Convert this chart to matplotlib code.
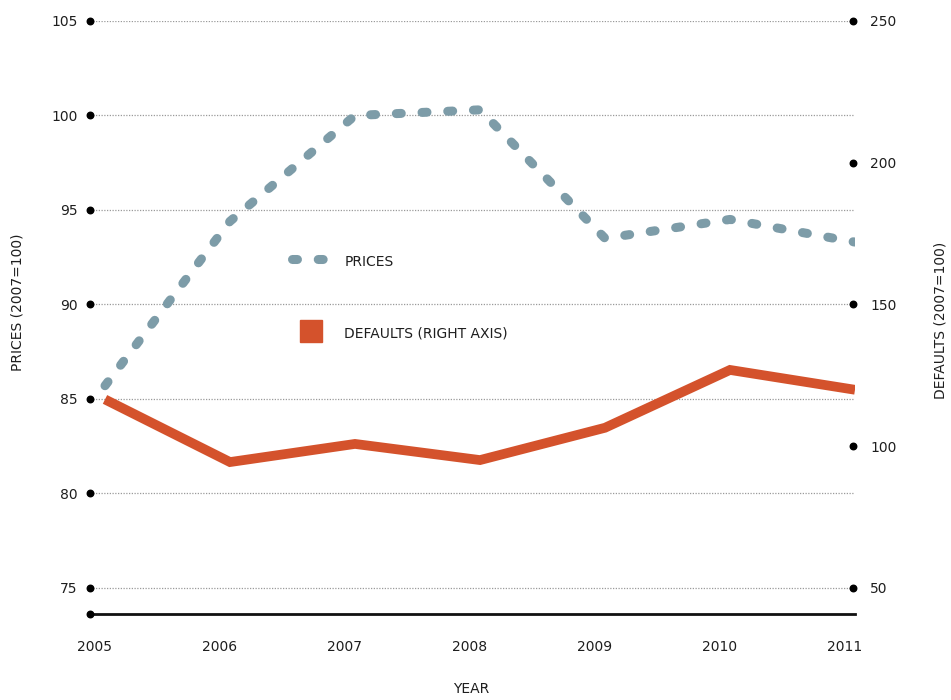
import numpy as np
import matplotlib.pyplot as plt
import matplotlib.transforms as mtransforms
from matplotlib.lines import Line2D

years = [2005, 2006, 2007, 2008, 2009, 2010, 2011]
prices = [85.7, 94.4, 100.0, 100.3, 93.5, 94.5, 93.3]
defaults = [116.5, 94.4, 100.8, 95.1, 106.5, 126.9, 119.9]

left_ticks = [75, 80, 85, 90, 95, 100, 105]
right_ticks = [50, 100, 150, 200, 250]

blue = '#7d9ca8'
red = '#d4522c'
txt = '#1e1e1e'
fs = 10

fig = plt.figure(figsize=(9.51, 7), dpi=100)
ax = fig.add_axes([90/951, 1-614/700, 765/951, 593/700])
ax2 = ax.twinx()

x0 = 2005 - 15/125
ax.set_xlim(x0, 2011)
ax.set_ylim(73.62, 105)
ax2.set_ylim(40.8, 250)

ax.plot(years, prices, color=blue, lw=6.5, dashes=(0.55, 2.3),
        dash_capstyle='round', zorder=3)
ax2.plot(years, defaults, color=red, lw=7, solid_capstyle='butt',
         solid_joinstyle='miter', zorder=3)

# grid + axis styling
ax.set_yticks(left_ticks)
ax.set_xticks(years)
ax.grid(axis='y', color='#9a9a9a', lw=0.9, linestyle=(0, (1, 1.2)))
ax.grid(axis='x', visible=False)
for s in ['top', 'left', 'right']:
    ax.spines[s].set_visible(False)
    ax2.spines[s].set_visible(False)
ax2.spines['bottom'].set_visible(False)
ax.spines['bottom'].set_color('#111111')
ax.spines['bottom'].set_linewidth(2)

ax.tick_params(axis='y', length=0, pad=9, labelsize=fs, labelcolor=txt)
ax.tick_params(axis='x', length=0, pad=19, labelsize=fs, labelcolor=txt)
ax2.set_yticks(right_ticks)
ax2.tick_params(axis='y', length=0, pad=11, labelsize=fs, labelcolor=txt)

# shift year labels slightly left like the original
shift = mtransforms.ScaledTranslation(-10/100, 0, fig.dpi_scale_trans)
for lab in ax.get_xticklabels():
    lab.set_transform(lab.get_transform() + shift)

# tick dots
ax.scatter([x0]*len(left_ticks), left_ticks, s=22, color='black', clip_on=False, zorder=5)
ax.scatter([x0], [73.62], s=22, color='black', clip_on=False, zorder=5)
ax2.scatter([2011 - 2/125]*len(right_ticks), right_ticks, s=22, color='black',
            clip_on=False, zorder=5)

ax.set_ylabel('PRICES (2007=100)', fontsize=fs, color=txt)
ax.yaxis.set_label_coords(-(90-18)/765, (614-302)/593)
ax2.set_ylabel('DEFAULTS (2007=100)', fontsize=fs, rotation=90, color=txt)
ax2.yaxis.set_label_coords(1 + (941-855)/765, (614-320)/593)
ax.set_xlabel('YEAR', fontsize=fs, color=txt)
ax.xaxis.set_label_coords((471-90)/765, -(689-614)/593)
ax.xaxis.label.set_va('center')
ax.yaxis.label.set_va('center')
ax2.yaxis.label.set_va('center')

# legend
h1 = Line2D([], [], color=blue, lw=6.5, dashes=(0.55, 2.3), dash_capstyle='round')
h2 = Line2D([], [], color=red, marker='s', markersize=16, linestyle='none')
leg = ax.legend([h1, h2], ['PRICES', 'DEFAULTS (RIGHT AXIS)'],
                loc='upper left', bbox_to_anchor=((286-90)/765, (614-247)/593),
                frameon=False, fontsize=fs, handlelength=2.8, handleheight=1.6,
                labelspacing=3.85, handletextpad=1.0, borderaxespad=0)
for t in leg.get_texts():
    t.set_color(txt)

fig.savefig('out.png', dpi=100)
